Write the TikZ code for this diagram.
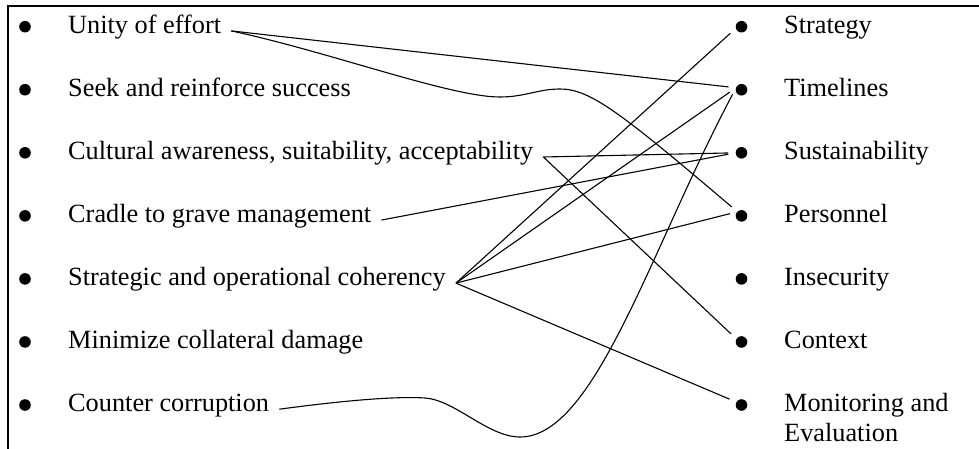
\documentclass[tikz,border=0pt]{standalone}
\usepackage{fontspec}
\setmainfont{Liberation Serif}
\newcommand\itemfont{\fontsize{26.3}{30}\selectfont}
\tikzset{
  dot/.style={circle, fill=black, inner sep=4.1pt, outer sep=0pt},
  item/.style={anchor=base west, inner xsep=10pt, inner ysep=0pt, font=\itemfont},
  link/.style={line width=1.1pt, line join=round, shorten >=7.5pt},
  frame/.style={line width=2pt}
}
\begin{document}
\begin{tikzpicture}[x=1pt, y=-1pt]
\useasboundingbox (0,0) rectangle (979,449);
\draw[frame] (8,449) -- (8,6) -- (979,6);

% left column
\node[dot] (l1) at (25,26.7) {};
\node[dot] (l2) at (25,89.75) {};
\node[dot] (l3) at (25,152.8) {};
\node[dot] (l4) at (25,215.85) {};
\node[dot] (l5) at (25,278.9) {};
\node[dot] (l6) at (25,341.95) {};
\node[dot] (l7) at (25,405) {};
\node[item] (unity)   at (58,33.2)  {Unity of effort};
\node[item] (seek)    at (58,96.25) {Seek and reinforce success};
\node[item] (cult)    at (58,159.3) {Cultural awareness, suitability, acceptability};
\node[item] (cradle)  at (58,222.35) {Cradle to grave management};
\node[item] (strat)   at (58,285.4) {Strategic and operational coherency};
\node[item] (mini)    at (58,348.45) {Minimize collateral damage};
\node[item] (counter) at (58,411.5) {Counter corruption};

% right column
\node[dot] (stg) at (741.5,26.7) {};
\node[dot] (tim) at (741.5,89.75) {};
\node[dot] (sus) at (741.5,152.8) {};
\node[dot] (per) at (741.5,215.85) {};
\node[dot] (ins) at (741.5,278.9) {};
\node[dot] (ctx) at (741.5,341.95) {};
\node[dot] (mon) at (741.5,405) {};
\node[item] (tstg) at (774,33.2)  {Strategy};
\node[item] (ttim) at (774,96.25) {Timelines};
\node[item] (tsus) at (774,159.3) {Sustainability};
\node[item] (tper) at (774,222.35) {Personnel};
\node[item] (tins) at (774,285.4) {Insecurity};
\node[item] (tctx) at (774,348.45) {Context};
\node[item] (tmon) at (774,411.5) {\begin{tabular}[t]{@{}l@{}}Monitoring and\\Evaluation\end{tabular}};

% connectors
\draw[link] (unity.mid east) -- (tim.160);
\draw[link] (unity.mid east) .. controls (330,52) and (450,97) .. (500,97)
  .. controls (525,97) and (538,89) .. (560,89)
  .. controls (590,89) and (620,112) .. (per.135);
\draw[link] (cult.mid east) -- (sus.180);
\draw[link] (cult.mid east) -- (ctx.150);
\draw[link] (cradle.mid east) -- (sus.180);
\draw[link] (strat.mid east) -- (stg.195);
\draw[link] (strat.mid east) -- (tim.160);
\draw[link] (strat.mid east) -- (per.135);
\draw[link] (strat.mid east) -- (mon.150);
\draw[link] (counter.mid east) .. controls (340,401) and (395,396) .. (425,398)
  .. controls (455,400) and (488,437) .. (520,437)
  .. controls (595,437) and (650,250) .. (tim.160);
\end{tikzpicture}
\end{document}
